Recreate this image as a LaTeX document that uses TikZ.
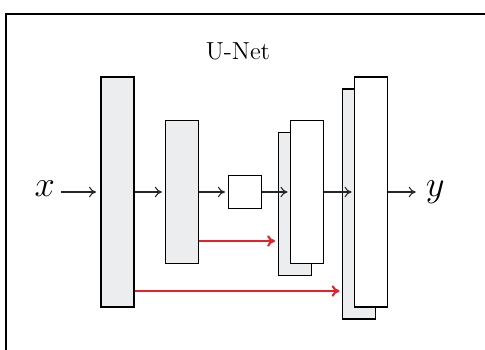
\documentclass[tikz,border=0pt]{standalone}
\usepackage{tikz}
\usetikzlibrary{positioning,arrows.meta}
\definecolor{blockgray}{RGB}{236,237,239}
\definecolor{skipred}{RGB}{232,32,40}

\begin{document}
\begin{tikzpicture}[
  node distance=6mm,
  block/.style={draw, line width=0.6pt, minimum width=6.6mm, inner sep=0pt},
  tallblock/.style={block, minimum height=46mm},
  midblock/.style={block, minimum height=28.7mm},
  back/.style={fill=blockgray},
  front/.style={fill=white},
  lbl/.style={inner sep=3.5pt, font=\fontsize{20}{24}\selectfont},
  arr/.style={-{To[length=4pt,width=6pt]}, line width=0.6pt, black!85, shorten >=1.5pt},
  skip/.style={-{To[length=4.5pt,width=6.5pt]}, line width=1.2pt, skipred, shorten >=1.5pt}
]
\useasboundingbox (0,0) rectangle (9.7,-6.98);
\clip (0,0) rectangle (9.7,-6.98);
\draw[line width=1pt] (0.12,-7.5) |- (10.2,-0.28);

\node[font=\fontsize{14}{17}\selectfont] (title) at (4.76,-1.02) {U-Net};

% encoder side
\node[tallblock, back] (b1) at (2.35,-3.84) {};
\node[midblock, back, right=6.0mm of b1] (b2) {};
\node[block, front, minimum height=6.6mm, right=5.8mm of b2] (mid) {};

% decoder side, grey block behind the white one
\node[midblock, back, right=3.2mm of mid, yshift=-2.4mm] (g3) {};
\node[midblock, front, xshift=2.5mm, yshift=2.4mm] (w3) at (g3) {};
\node[tallblock, back, right=3.6mm of w3, yshift=-2.4mm] (g4) {};
\node[tallblock, front, xshift=2.4mm, yshift=2.4mm] (w4) at (g4) {};

\node[lbl, left=7.8mm of b1, yshift=0.6mm] (x) {$x$};
\node[lbl, right=6.2mm of w4] (y) {$y$};

\draw[arr, shorten >=2.5pt] (x.east |- b1) -- (b1);
\draw[arr] (b1) -- (b2);
\draw[arr] (b2) -- (mid);
\draw[arr] (mid) -- (w3);
\draw[arr] (w3) -- (w4);
\draw[arr, shorten >=2pt] (w4) -- (y);

% skip connections
\draw[skip] ([yshift=-9.8mm]b2.east) -- ([yshift=-9.8mm]b2.east -| g3.west);
\draw[skip] ([yshift=-19.8mm]b1.east) -- ([yshift=-19.8mm]b1.east -| g4.west);
\end{tikzpicture}
\end{document}
